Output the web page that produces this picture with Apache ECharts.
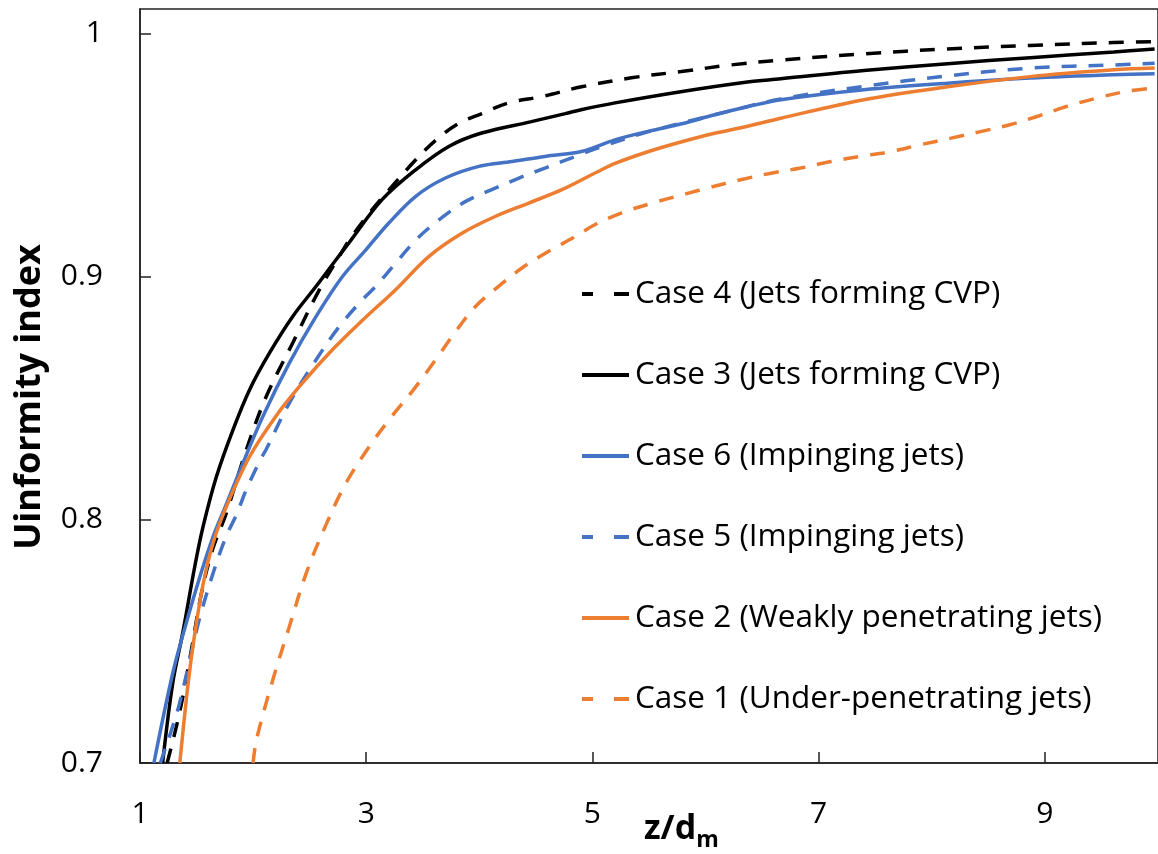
<!DOCTYPE html>
<html>
<head>
<meta charset="utf-8">
<script src="https://cdn.jsdelivr.net/npm/echarts@6/dist/echarts.min.js"></script>
<style>
html,body{margin:0;padding:0;background:#fff;}
#chart{width:1158px;height:854px;}
</style>
</head>
<body>
<div id="chart"></div>
<script>
// ---- data ----
const xTicks = [1, 3, 5, 7, 9];
const yTicks = [0.7, 0.8, 0.9, 1];

const case4_z = [1.24,1.35,1.455,1.544,1.643,1.764,1.94,2.116,2.35,2.586,2.762,2.85,3.026,3.203,3.438,3.614,3.819,4.022,4.26,4.551,4.903,5.344,5.784,6.225,6.665,7.405,8.137,8.868,9.608,9.97];
const case4_u = [0.700,0.7207,0.7466,0.770,0.788,0.8028,0.8288,0.8507,0.8727,0.8946,0.9083,0.915,0.926,0.9357,0.948,0.956,0.963,0.967,0.9714,0.974,0.978,0.9817,0.9843,0.987,0.989,0.9916,0.9936,0.995,0.9962,0.9966];

const case3_z = [1.20,1.29,1.38,1.485,1.558,1.676,1.822,1.969,2.145,2.35,2.557,2.733,2.85,3.14,3.44,3.73,4.02,4.46,4.76,4.9,5.2,5.78,6.37,6.665,7.4,8.14,8.87,9.61,9.97];
const case3_u = [0.700,0.733,0.754,0.781,0.7973,0.8178,0.837,0.8535,0.8686,0.8836,0.896,0.9069,0.914,0.9316,0.944,0.9535,0.959,0.9637,0.967,0.9686,0.9714,0.976,0.980,0.9813,0.9847,0.9875,0.990,0.9923,0.9936];

const case6_z = [1.123,1.29,1.41,1.53,1.646,1.76,1.91,2.086,2.32,2.557,2.79,2.997,3.2,3.438,3.70,3.996,4.29,4.58,4.9,5.2,5.5,5.79,6.08,6.37,6.665,7.4,8.14,8.87,9.61,9.97];
const case6_u = [0.700,0.737,0.7577,0.7767,0.793,0.806,0.8233,0.8425,0.8644,0.8836,0.900,0.911,0.922,0.933,0.9405,0.9453,0.9473,0.9494,0.9514,0.9562,0.9598,0.9628,0.9665,0.9698,0.9727,0.9768,0.9795,0.9816,0.983,0.9834];

const case5_z = [1.18,1.335,1.44,1.53,1.646,1.76,1.852,1.94,2.057,2.116,2.32,2.557,2.762,2.967,3.085,3.26,3.44,3.643,3.88,4.11,4.35,4.58,4.85,5.05,5.49,6.08,6.665,7.4,8.14,8.87,9.61,9.97];
const case5_u = [0.700,0.722,0.7425,0.760,0.778,0.793,0.802,0.8124,0.824,0.829,0.848,0.8658,0.8795,0.8905,0.896,0.9055,0.9151,0.9233,0.9309,0.9357,0.9405,0.9446,0.9494,0.9529,0.9595,0.9665,0.973,0.9782,0.9825,0.9857,0.987,0.9877];

const case2_z = [1.352,1.426,1.485,1.56,1.646,1.76,1.969,2.2,2.41,2.674,2.967,3.26,3.555,3.85,4.14,4.436,4.73,5.05,5.2,5.49,5.79,6.08,6.37,6.665,7.4,8.14,8.87,9.61,9.97];
const case2_u = [0.700,0.733,0.7535,0.774,0.7905,0.805,0.826,0.8425,0.8548,0.8686,0.882,0.8946,0.9083,0.9179,0.9247,0.9302,0.9357,0.9432,0.9465,0.9513,0.9554,0.9589,0.9618,0.9651,0.9727,0.978,0.9822,0.985,0.9857];

const case1_z = [2.0,2.03,2.175,2.32,2.47,2.645,2.82,3.026,3.2,3.41,3.614,3.79,3.966,4.17,4.377,4.61,4.85,5.02,5.26,5.55,5.85,6.02,6.31,6.58,6.84,7.11,7.37,7.64,7.9,8.17,8.43,8.69,8.93,9.19,9.46,9.72,9.97];
const case1_u = [0.700,0.7096,0.7343,0.756,0.7781,0.798,0.815,0.830,0.841,0.853,0.8658,0.8774,0.8877,0.8960,0.9035,0.9103,0.9165,0.9213,0.9262,0.9305,0.9343,0.9364,0.9398,0.9425,0.9446,0.9473,0.9494,0.9514,0.9542,0.9569,0.9596,0.9624,0.9658,0.9699,0.9734,0.9761,0.9776];

const seriesNames = [
  'Case 4 (Jets forming CVP)',
  'Case 3 (Jets forming CVP)',
  'Case 6 (Impinging jets)',
  'Case 5 (Impinging jets)',
  'Case 2 (Weakly penetrating jets)',
  'Case 1 (Under-penetrating jets)'
];
const seriesDashed = [true, false, false, true, false, true];
const xAxisTitle = 'z/d';
const xAxisTitleSub = 'm';
const yAxisTitle = 'Uinformity index';

// ---- build ----
const zip = (a, b) => a.map((v, i) => [v, b[i]]);
const BLACK = '#000000', BLUE = '#4472C4', ORANGE = '#ED7D31';
const FONT = 'Open Sans';
const ICON_DASH = 'path://M0,0H11V4H0Z M32,0H47V4H32Z';
const ICON_SOLID = 'path://M0,0H47V4H0Z';

function mk(name, z, u, color, dashed) {
  return {
    name: name,
    type: 'line',
    data: zip(z, u),
    smooth: 0.35,
    showSymbol: false,
    symbol: 'none',
    clip: true,
    lineStyle: { color: color, width: 3.5, type: dashed ? [15, 12] : 'solid' },
    itemStyle: { color: color }
  };
}

const defs = [
  [case4_z, case4_u, BLACK],
  [case3_z, case3_u, BLACK],
  [case6_z, case6_u, BLUE],
  [case5_z, case5_u, BLUE],
  [case2_z, case2_u, ORANGE],
  [case1_z, case1_u, ORANGE]
];

const chart = echarts.init(document.getElementById('chart'), null, { renderer: 'canvas' });
chart.setOption({
  animation: false,
  backgroundColor: '#fff',
  grid: {
    left: 140, top: 9, width: 1020, height: 754,
    show: true, borderColor: '#222', borderWidth: 1.5, backgroundColor: 'transparent'
  },
  xAxis: {
    type: 'value', min: 1, max: 10,
    axisLine: { show: true, lineStyle: { color: '#222', width: 1.5 } },
    axisTick: { show: true, inside: true, length: 11, customValues: xTicks, lineStyle: { color: '#222', width: 1.5 } },
    axisLabel: { customValues: xTicks, margin: 36, fontSize: 30, color: '#000', fontFamily: FONT },
    splitLine: { show: false }
  },
  yAxis: {
    type: 'value', min: 0.7, max: 1.01,
    axisLine: { show: true, lineStyle: { color: '#222', width: 1.5 } },
    axisTick: { show: true, inside: true, length: 11, customValues: yTicks, lineStyle: { color: '#222', width: 1.5 } },
    axisLabel: { customValues: yTicks, margin: 37, fontSize: 30, color: '#000', fontFamily: FONT,
      formatter: v => (Math.abs(v - 1) < 1e-9 ? '1' : v.toFixed(1)) },
    splitLine: { show: false }
  },
  legend: {
    orient: 'vertical',
    left: 582, top: 277, padding: 0,
    itemWidth: 47, itemHeight: 4, itemGap: 47,
    data: seriesNames.map((n, i) => ({
      name: n,
      icon: seriesDashed[i] ? ICON_DASH : ICON_SOLID
    })),
    textStyle: { fontSize: 31.5, lineHeight: 34, color: '#000', fontFamily: FONT, padding: [0, 0, 0, 1] },
    selectedMode: false
  },
  graphic: [
    {
      type: 'text', x: 30, y: 397, rotation: Math.PI / 2,
      style: { text: yAxisTitle, font: 'bold 36px "Open Sans"', fill: '#000', align: 'center', verticalAlign: 'middle' }
    },
    {
      type: 'text', x: 644, y: 806,
      style: {
        text: '{a|' + xAxisTitle + '}{b|' + xAxisTitleSub + '}',
        rich: {
          a: { fontSize: 34, fontWeight: 'bold', fontFamily: FONT, fill: '#000', lineHeight: 46, verticalAlign: 'middle' },
          b: { fontSize: 23, fontWeight: 'bold', fontFamily: FONT, fill: '#000', lineHeight: 46, verticalAlign: 'bottom' }
        }
      }
    }
  ],
  series: seriesNames.map((n, i) => mk(n, defs[i][0], defs[i][1], defs[i][2], seriesDashed[i]))
});
</script>
</body>
</html>
